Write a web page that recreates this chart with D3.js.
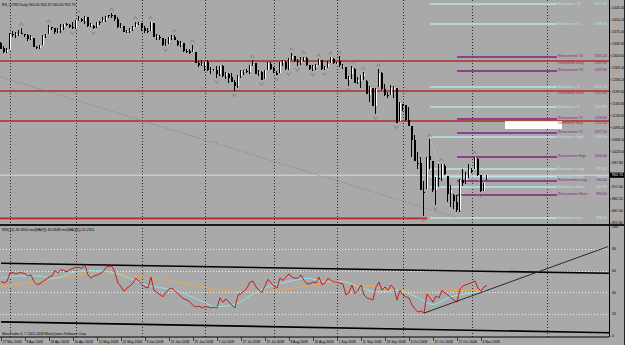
<!DOCTYPE html>
<html lang="en">
<head>
<meta charset="utf-8">
<title>ES_CONT,Daily</title>
<script src="https://cdn.jsdelivr.net/npm/d3@7"></script>
<style>
body{margin:0;background:#a9a9a9;}
svg{display:block;font-family:"Liberation Sans",Arial,sans-serif;}
</style>
</head>
<body>
<div id="chart"></div>
<script>

// daily bars, 27 Mar 2008 .. 10 Nov 2008 (weekdays)
var opens = [
1341,1327,1315,1326,1370,1365,1369,1373, 1370,1365,1354,1357,1332,1329,1337,1364,
1369,1390,1387,1378,1380,1389,1397,1395, 1391,1386,1410,1414,1406,1418,1394,1394,
1389,1404,1404,1409,1424,1426,1424,1414, 1391,1393,1376,1377,1385,1391,1398,1400,
1386,1378,1377,1400,1361,1361,1358,1336, 1341,1358,1361,1349,1336,1341,1320,1318,
1315,1316,1283,1279,1276,1285,1262,1263, 1264,1252,1274,1245,1252,1242,1227,1215,
1246,1259,1261,1257,1278,1283,1253,1258, 1235,1264,1281,1269,1254,1254,1284,1285,
1267,1294,1304,1288,1283,1293,1298,1277, 1267,1271,1277,1291,1267,1272,1283,1296,
1283,1288,1275,1273,1233,1250,1267,1227, 1229,1245,1230,1188,1210,1157,1213,1255,
1208,1188,1188,1204,1209,1113,1162,1160, 1115,1097,1057,988,988,902,912,1009,
994,909,943,943,980,951,899,895, 875,849,940,940,953,968,971,1001,
952,907,944];
var highs = [
1345,1334,1329,1371,1377,1375,1381,1386, 1370,1368,1367,1357,1335,1337,1365,1368,
1395,1391,1388,1387,1397,1398,1402,1397, 1404,1410,1422,1416,1421,1419,1402,1396,
1404,1407,1418,1422,1426,1430,1424,1420, 1400,1393,1380,1387,1392,1405,1404,1400,
1394,1388,1405,1400,1370,1366,1358,1353, 1361,1365,1367,1350,1348,1341,1324,1326,
1336,1316,1290,1291,1285,1291,1272,1266, 1274,1275,1278,1257,1253,1254,1234,1247,
1263,1262,1267,1279,1291,1283,1263,1260, 1264,1285,1285,1271,1261,1285,1292,1290,
1297,1313,1304,1294,1300,1302,1301,1278, 1277,1281,1294,1291,1276,1289,1301,1297,
1286,1303,1281,1273,1244,1275,1269,1243, 1249,1256,1233,1215,1210,1211,1265,1256,
1221,1198,1220,1216,1210,1168,1163,1161, 1153,1097,1072,1021,1005,936,1006,1058,
994,948,985,986,985,951,923,896, 893,941,970,963,985,975,1007,1003,
953,931,954.25];
var lows = [
1325,1312,1312,1326,1360,1358,1362,1369, 1360,1348,1350,1331,1324,1324,1337,1358,
1369,1382,1370,1371,1372,1380,1394,1386, 1384,1385,1406,1405,1397,1391,1389,1384,
1386,1396,1404,1404,1415,1416,1406,1388, 1388,1374,1373,1373,1378,1390,1396,1377,
1373,1371,1377,1359,1350,1351,1335,1333, 1340,1350,1350,1333,1330,1317,1313,1309,
1315,1283,1272,1274,1260,1261,1252,1260, 1240,1245,1243,1236,1225,1226,1200,1210,
1240,1249,1255,1252,1276,1251,1245,1234, 1235,1264,1264,1254,1248,1254,1275,1264,
1263,1292,1285,1275,1277,1290,1274,1263, 1261,1263,1277,1264,1263,1270,1283,1282,
1280,1272,1267,1236,1217,1236,1224,1221, 1211,1233,1192,1169,1156,1133,1213,1205,
1187,1180,1188,1180,1106,1113,1141,1112, 1098,1007,996,970,910,832,912,972,
903,865,918,937,952,875,860,853, 845,845,922,928,945,959,971,949,
904,906,940];
var closes = [
1325.8,1315,1322.7,1370,1367.5,1369,1370,1372, 1365,1354,1360,1332,1328,1334,1364,1365,
1390,1388,1376,1380,1389,1397,1396,1391, 1386,1409,1414,1407,1418,1393,1398,1388,
1404,1403,1409,1420,1422,1424,1413,1391, 1394,1376,1378,1385,1391,1398,1400,1386,
1378,1377,1404,1361,1362,1358,1336,1340, 1360,1360,1351,1338,1343,1318,1318,1314,
1322,1283,1278,1280,1285,1262,1263,1264, 1252,1274,1245,1253,1240,1228,1215,1245,
1260,1261,1260,1277,1282,1252,1258,1234, 1263,1284,1267,1260,1249,1285,1289,1266,
1296,1305,1290,1286,1293,1298,1279,1267, 1275,1278,1292,1267,1272,1282,1301,1283,
1284,1278,1275,1237,1242,1268,1225,1232, 1249,1252,1193,1214,1156,1207,1255,1207,
1188,1186,1209,1213,1106,1166,1161,1114, 1099,1057,996,985,910,899,1003,998,
908,946,941,985,955,897,908,877, 849,940,930,954,969,966,1006,953,
905,931,952.75];

// RSI(14), one value per bar
var rsi = [
50,48.6,50,58,58,57,58,58, 57,55,56,50,47,48,50,52,
54,55,60,58,61,60,59,61, 62,63,63,62,65,56,53,55,
56,57,59,63,64,64,58,48.6, 45,41,44,46,48.6,53,50,47,
45,44,54,42,40,38,36,40, 43,44,41,39,36,34,33,31,
28,26.6,27.5,25.7,27,26.6,25.7,26.6, 25.7,35,31,34,31,28.4,25.7,37.6,
39,41,44,49.5,50.5,45,42,40, 46,52,48.6,45.8,44,53,51,54,
57,54,53,53,56,51,47.7,48, 49.5,48.6,54,47,48.6,53,51,49.5,
49.5,48.5,47.7,37.6,40,46.8,39,42, 46.8,37.6,35,34,33,45,49.5,42,
45,42,46.8,44,33,42,37.6,36, 35,28.4,25,22,23,21,38.5,35,
31,36.7,34.9,42,39.4,37.6,34.9,33, 31,43,45.9,47,48,49,50.5,44,
41,45,46.35];

// moving averages of RSI, read at sample bars
var maFastIdx = [0,6,12,18,24,30,36,42,48,54,60,66,72,78,84,90,96,102,108,114,120,126,132,138,144,150,156,162];
var maFast =    [53,55,55,53,58.5,60,59,54,47,44,40,33,27,29,38.5,46,50,53,50,50,44,40.5,42,36.5,29,36,39,42];
var maSlowIdx = [0,12,24,33,42,50,60,69,78,89,100,111,122,133,140,147,155,162];
var maSlow =    [45,50,55,57.5,56,53,49,44,41,41,45,48.5,46,42,40.5,41,42,41.2];

var dateLabels = ["27 Mar 2008","8 Apr 2008","18 Apr 2008","30 Apr 2008","12 May 2008","22 May 2008",
  "3 Jun 2008","13 Jun 2008","25 Jun 2008","7 Jul 2008","17 Jul 2008","29 Jul 2008","8 Aug 2008",
  "20 Aug 2008","1 Sep 2008","11 Sep 2008","23 Sep 2008","3 Oct 2008","15 Oct 2008","27 Oct 2008","6 Nov 2008"];
var monthStarts = [3,25,47,68,91,112,134,157,182];

var priceTicks = [811.80,847.00,882.20,917.40,987.80,1023.00,1058.20,1093.40,1128.60,1163.80,
  1199.00,1234.20,1269.40,1304.60,1339.80,1375.00,1410.20,1445.40];
var rsiTicks = [100,80,60,40,20,0];
var rsiLevels = [80,60,40,20];

// target / retracement levels drawn on the chart
var levelNames = ["Resistance T4","Resistance T3","Retracement T4","Downtrend Long","Retracement T3",
  "Resistance T2","Downtrend Short","Resistance T1","Retracement T2","Downtrend Stop","Retracement T1",
  "Resistance High","Retracement High","Resistance Long","Resistance Stop","Retracement Long",
  "Resistance Short","Retracement Short","Resistance Low"];
var levelPrices = [1457.4,1398.4,1301.2,1289.4,1259.9,1212.7,1201.0,1153.8,1118.4,1112.5,1077.1,
  1065.3,1006.4,971.0,948.5,935.6,917.9,894.3,826.5];
var levelKinds = ["R","R","P","D","P","R","D","R","P","D","P","R","P","R","R","P","R","P","R"];

var floorLine = [825.5];          // old support, from first bar to the Oct low
var diagIdx = [0,152], diagPrice = [1242,827];
var zzIdx = [143,152,158,160], zzPrice = [1058,845,1007,904];
var rsiTrendIdx = [141,202.3], rsiTrend = [21,82];
var chanIdx = [0,202.7], chanUpper = [66.7,57.5], chanLower = [13,3];

var lastBar = {o:944.00,h:954.25,l:940.00,c:952.75};

// ---------------------------------------------------------------
var w = 625, h = 345
var right = 609

var svg = d3.select("#chart").append("svg").attr("width",w).attr("height",h)

var x = d3.scaleLinear().domain([0,202.67]).range([1,right])
var y = d3.scaleLinear().domain([811.8,1469.2]).range([223,0])
var yr = d3.scaleLinear().domain([0,100]).range([336,227])

svg.append("rect").attr("width",w).attr("height",h).attr("fill","#a9a9a9")

// month grid
svg.append("g").selectAll("line").data(monthStarts).enter().append("line")
  .attr("x1",function(d){return Math.round(x(d))+0.5}).attr("x2",function(d){return Math.round(x(d))+0.5})
  .attr("y1",0).attr("y2",337)
  .attr("stroke","#2a2a2a").attr("stroke-dasharray","1,2")

// levels
var colors = {R:"#b8e4ea",P:"#7e2180",D:"#b32b2b"}
var textShift = {R:1.2,P:0.2,D:3}
var lv = levelNames.map(function(n,i){return {name:n,price:levelPrices[i],kind:levelKinds[i]}})

svg.append("line").attr("x1",0).attr("x2",x(142))
  .attr("y1",y(floorLine[0])).attr("y2",y(floorLine[0]))
  .attr("stroke","#b32b2b").attr("stroke-width",1.7)

svg.append("g").selectAll("line").data(lv).enter().append("line")
  .attr("x1",function(d){return d.kind=="D"?0:(d.kind=="R"?x(143):x(152))})
  .attr("x2",function(d){return d.kind=="D"?right:557})
  .attr("y1",function(d){return y(d.price)}).attr("y2",function(d){return y(d.price)})
  .attr("stroke",function(d){return colors[d.kind]})
  .attr("stroke-width",function(d){return d.kind=="D"?1.7:1.5})

// bid line
svg.append("line").attr("x1",0).attr("x2",right)
  .attr("y1",y(lastBar.c)).attr("y2",y(lastBar.c))
  .attr("stroke","#dcdcdc").attr("stroke-width",1)

// white label box
svg.append("rect").attr("x",x(168)).attr("width",x(187)-x(168))
  .attr("y",y(1112)).attr("height",y(1089)-y(1112)).attr("fill","#ffffff")

// dotted trend lines
svg.append("line").attr("x1",x(diagIdx[0])).attr("y1",y(diagPrice[0]))
  .attr("x2",x(diagIdx[1])).attr("y2",y(diagPrice[1]))
  .attr("stroke","#7a7a7a").attr("stroke-dasharray","1,2")

var zz = d3.line().x(function(d){return x(d)}).y(function(d,i){return y(zzPrice[i])})
svg.append("path").attr("d",zz(zzIdx)).attr("fill","none")
  .attr("stroke","#d0d0d0").attr("stroke-dasharray","1,2")

// level labels
var lab = svg.append("g").style("font-size","3.5px")
lab.selectAll(".nm").data(lv).enter().append("text")
  .attr("x",558).attr("y",function(d){return y(d.price)+textShift[d.kind]})
  .attr("fill",function(d){return colors[d.kind]}).text(function(d){return d.name})
lab.selectAll(".vl").data(lv).enter().append("text")
  .attr("x",607).attr("text-anchor","end").attr("y",function(d){return y(d.price)+textShift[d.kind]})
  .attr("fill",function(d){return colors[d.kind]}).text(function(d){return d.price.toFixed(2)})

// candles
var bars = opens.map(function(o,i){return {i:i,o:o,h:highs[i],l:lows[i],c:closes[i]}})
var cg = svg.append("g").attr("shape-rendering","crispEdges")
cg.selectAll(".body").data(bars).enter().append("rect")
  .attr("x",function(d){return Math.round(x(d.i))-1}).attr("width",2)
  .attr("y",function(d){return y(Math.max(d.o,d.c))})
  .attr("height",function(d){return Math.max(1,y(Math.min(d.o,d.c))-y(Math.max(d.o,d.c)))})
  .attr("fill",function(d){return d.c>=d.o?"#ffffff":"#000000"})
cg.selectAll(".wick").data(bars).enter().append("rect")
  .attr("x",function(d){return Math.round(x(d.i))-1}).attr("width",1)
  .attr("y",function(d){return y(d.h)})
  .attr("height",function(d){return Math.max(1,y(d.l)-y(d.h))})
  .attr("fill","#000000")

// fractals
var ups = [], dns = []
for (var i=2;i<bars.length-2;i++){
  if (highs[i]>highs[i-1]&&highs[i]>highs[i-2]&&highs[i]>highs[i+1]&&highs[i]>highs[i+2]) ups.push(i)
  if (lows[i]<lows[i-1]&&lows[i]<lows[i-2]&&lows[i]<lows[i+1]&&lows[i]<lows[i+2]) dns.push(i)
}
var fg = svg.append("g").attr("fill","none").attr("stroke","#777").attr("stroke-width",0.8)
fg.selectAll(".up").data(ups).enter().append("path")
  .attr("d",function(d){var cx=x(d)-0.5,cy=y(highs[d])-4;return "M"+(cx-2)+","+(cy+1.5)+"L"+cx+","+(cy-1.5)+"L"+(cx+2)+","+(cy+1.5)})
fg.selectAll(".dn").data(dns).enter().append("path")
  .attr("d",function(d){var cx=x(d)-0.5,cy=y(lows[d])+4;return "M"+(cx-2)+","+(cy-1.5)+"L"+cx+","+(cy+1.5)+"L"+(cx+2)+","+(cy-1.5)})

// title
svg.append("text").attr("x",2).attr("y",5.5).style("font-size","3.6px").attr("fill","#000")
  .text("ES_CONT,Daily  "+lastBar.o.toFixed(2)+" "+lastBar.h.toFixed(2)+" "+lastBar.l.toFixed(2)+" "+lastBar.c.toFixed(2))

// pane separator
svg.append("line").attr("x1",0).attr("x2",w).attr("y1",225).attr("y2",225)
  .attr("stroke","#1a1a1a").attr("stroke-width",2)

// RSI pane
svg.append("g").selectAll("line").data(rsiLevels).enter().append("line")
  .attr("x1",0).attr("x2",right)
  .attr("y1",function(d){return Math.round(yr(d))+0.5}).attr("y2",function(d){return Math.round(yr(d))+0.5})
  .attr("stroke","#f0f0f0").attr("stroke-dasharray","1,2")

var ch = d3.line().x(function(d){return x(d)})
svg.append("path").attr("d",ch.y(function(d,i){return yr(chanUpper[i])})(chanIdx))
  .attr("stroke","#000").attr("stroke-width",1.6).attr("fill","none")
svg.append("path").attr("d",ch.y(function(d,i){return yr(chanLower[i])})(chanIdx))
  .attr("stroke","#000").attr("stroke-width",1.6).attr("fill","none")

var slowLine = d3.line().curve(d3.curveMonotoneX).x(function(d){return x(d)}).y(function(d,i){return yr(maSlow[i])})
svg.append("path").attr("d",slowLine(maSlowIdx)).attr("fill","none").attr("stroke","#f0a64a").attr("stroke-width",1)
var fastLine = d3.line().curve(d3.curveMonotoneX).x(function(d){return x(d)}).y(function(d,i){return yr(maFast[i])})
svg.append("path").attr("d",fastLine(maFastIdx)).attr("fill","none").attr("stroke","#8fe3e8").attr("stroke-width",1)
var rsiLine = d3.line().x(function(d,i){return x(i)}).y(function(d){return yr(d)})
svg.append("path").attr("d",rsiLine(rsi)).attr("fill","none").attr("stroke","#c41c1c").attr("stroke-width",1)

svg.append("line").attr("x1",x(rsiTrendIdx[0])).attr("y1",yr(rsiTrend[0]))
  .attr("x2",x(rsiTrendIdx[1])).attr("y2",yr(rsiTrend[1]))
  .attr("stroke","#2a2a2a").attr("stroke-width",1)

svg.append("text").attr("x",2).attr("y",230.5).style("font-size","3.6px").attr("fill","#000")
  .text("RSI(14) "+rsi[rsi.length-1].toFixed(4)+"  ma(MA(9)) 40.0848  ma(MA(45)) 41.2311")
svg.append("text").attr("x",2).attr("y",335).style("font-size","3.4px").attr("fill","#000")
  .text("MetaTrader 4, \u00a9 2001-2008 MetaQuotes Software Corp.")

// right axis
svg.append("line").attr("x1",right+0.5).attr("x2",right+0.5).attr("y1",0).attr("y2",337).attr("stroke","#000")
var ax = svg.append("g").style("font-size","3.6px")
ax.selectAll(".pt").data(priceTicks).enter().append("text")
  .attr("x",612).attr("y",function(d){return y(d)+1.2}).attr("fill","#000").text(function(d){return d.toFixed(2)})
ax.selectAll(".ptk").data(priceTicks).enter().append("line")
  .attr("x1",right).attr("x2",right+2).attr("y1",function(d){return y(d)}).attr("y2",function(d){return y(d)}).attr("stroke","#000").attr("stroke-width",0.6)
ax.selectAll(".rt").data(rsiTicks).enter().append("text")
  .attr("x",612).attr("y",function(d){return yr(d)+1.2}).attr("fill","#000").text(function(d){return d})
ax.append("rect").attr("x",right+1).attr("width",w-right-1).attr("y",y(lastBar.c)-2.6).attr("height",5.2).attr("fill","#000")
ax.append("text").attr("x",612).attr("y",y(lastBar.c)+1.3).attr("fill","#fff").text(lastBar.c.toFixed(2))
svg.append("rect").attr("x",w-1).attr("width",1).attr("height",h).attr("fill","#222")

// date axis
svg.append("line").attr("x1",0).attr("x2",right).attr("y1",337).attr("y2",337).attr("stroke","#000")
var dg = svg.append("g").style("font-size","3.4px")
dg.selectAll("line").data(dateLabels).enter().append("line")
  .attr("x1",function(d,i){return Math.round(x(i*8))+0.5}).attr("x2",function(d,i){return Math.round(x(i*8))+0.5})
  .attr("y1",337).attr("y2",341).attr("stroke","#000").attr("stroke-width",0.6)
dg.selectAll("text").data(dateLabels).enter().append("text")
  .attr("x",function(d,i){return x(i*8)+1.5}).attr("y",342.5).attr("fill","#000").text(function(d){return d})

</script>
</body>
</html>
